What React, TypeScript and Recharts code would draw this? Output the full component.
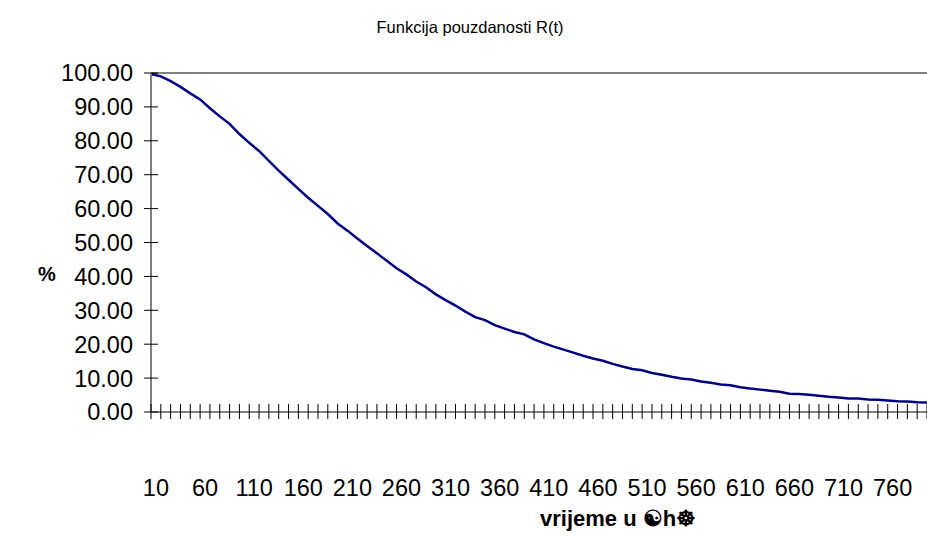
import React from 'react';
import { LineChart, Line, XAxis, YAxis, ReferenceLine } from 'recharts';

// vrijeme (t) u satima, od 10 do 800
const vrijeme = [
    10, 20, 30, 40, 50, 60, 70, 80, 90, 100,
    110, 120, 130, 140, 150, 160, 170, 180, 190, 200,
    210, 220, 230, 240, 250, 260, 270, 280, 290, 300,
    310, 320, 330, 340, 350, 360, 370, 380, 390, 400,
    410, 420, 430, 440, 450, 460, 470, 480, 490, 500,
    510, 520, 530, 540, 550, 560, 570, 580, 590, 600,
    610, 620, 630, 640, 650, 660, 670, 680, 690, 700,
    710, 720, 730, 740, 750, 760, 770, 780, 790, 800,
];

// R(t) u %
const pouzdanost = [
    99.7, 99.0, 97.6, 95.9, 94.0, 92.2, 89.6, 87.2, 85.0, 82.0,
    79.4, 77.0, 74.1, 71.2, 68.5, 65.8, 63.2, 60.8, 58.4, 55.6,
    53.5, 51.2, 49.0, 46.8, 44.6, 42.4, 40.6, 38.5, 36.8, 34.7,
    33.0, 31.4, 29.6, 28.0, 27.1, 25.6, 24.6, 23.6, 22.9, 21.4,
    20.3, 19.3, 18.4, 17.5, 16.6, 15.8, 15.1, 14.2, 13.4, 12.7,
    12.3, 11.5, 11.0, 10.4, 9.9, 9.6, 9.0, 8.6, 8.1, 7.9,
    7.3, 6.9, 6.6, 6.3, 6.0, 5.4, 5.3, 5.1, 4.8, 4.5,
    4.3, 4.0, 4.0, 3.7, 3.6, 3.4, 3.2, 3.1, 2.9, 2.8,
];

const yTicks = [0, 10, 20, 30, 40, 50, 60, 70, 80, 90, 100];

const data = vrijeme.map((t, i) => ({ t, R: pouzdanost[i] }));

const FONT = '"Liberation Sans", Arial, sans-serif';
const STEP = (927 - 151) / (vrijeme.length - 1);

const XTick = (props: any) => {
    const { x, y, payload, index } = props;
    return (
        <g>
            <line x1={x} x2={x} y1={y - 8} y2={y + 7} stroke="#000" strokeWidth={1} />
            {index % 5 === 0 && (
                <text x={x + STEP / 2} y={y + 84} textAnchor="middle" fontSize={23.5} fontFamily={FONT} fill="#000">
                    {payload.value}
                </text>
            )}
        </g>
    );
};

const YTick = (props: any) => {
    const { x, y, payload } = props;
    return (
        <g>
            <line x1={x - 7} x2={x + 7} y1={y} y2={y} stroke="#000" strokeWidth={1} />
            <text x={x - 18} y={y} dy="0.36em" textAnchor="end" fontSize={23.5} fontFamily={FONT} fill="#000">
                {Number(payload.value).toFixed(2)}
            </text>
        </g>
    );
};

const styles = {
    wrap: {
        position: 'absolute',
        left: 0,
        top: 0,
        width: 927,
        height: 536,
        background: '#fff',
        fontFamily: FONT,
        overflow: 'hidden',
    } as React.CSSProperties,
    title: {
        position: 'absolute',
        left: 0,
        width: 940,
        top: 18,
        textAlign: 'center',
        fontSize: 16.5,
        color: '#000',
    } as React.CSSProperties,
    yLabel: {
        position: 'absolute',
        left: 38,
        top: 263,
        fontSize: 20,
        fontWeight: 'bold',
        color: '#000',
    } as React.CSSProperties,
    xLabel: {
        position: 'absolute',
        left: 540,
        top: 506,
        fontSize: 22,
        fontWeight: 'bold',
        color: '#000',
        whiteSpace: 'nowrap',
    } as React.CSSProperties,
};

export default function App() {
    return (
        <div style={styles.wrap}>
            <LineChart width={927} height={536} data={data} margin={{ top: 73, right: 0, bottom: 0, left: 0 }}>
                <ReferenceLine y={100} stroke="#808080" strokeWidth={2} />
                <XAxis
                    dataKey="t"
                    interval={0}
                    height={124}
                    tickSize={0}
                    tickMargin={0}
                    tickLine={false}
                    axisLine={{ stroke: '#808080', strokeWidth: 2 }}
                    tick={<XTick />}
                />
                <YAxis
                    domain={[0, 100]}
                    ticks={yTicks}
                    width={151}
                    tickSize={0}
                    tickMargin={0}
                    tickLine={false}
                    axisLine={{ stroke: '#808080', strokeWidth: 2 }}
                    tick={<YTick />}
                />
                <Line
                    type="linear"
                    dataKey="R"
                    stroke="#000080"
                    strokeWidth={2.5}
                    dot={false}
                    isAnimationActive={false}
                />
            </LineChart>
            <div style={styles.title}>Funkcija pouzdanosti R(t)</div>
            <div style={styles.yLabel}>%</div>
            <div style={styles.xLabel}>vrijeme u ☯h☸</div>
        </div>
    );
}
